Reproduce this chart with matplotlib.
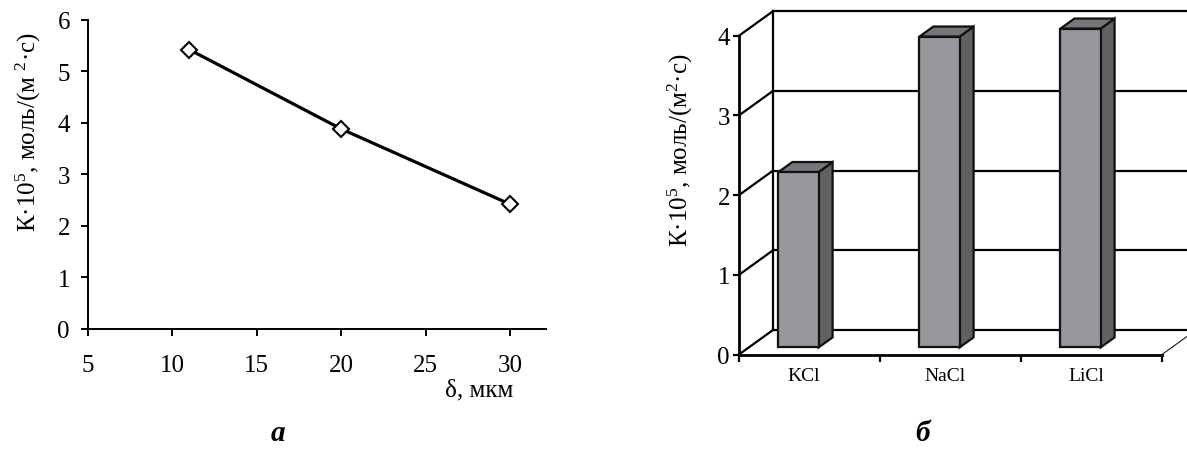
import matplotlib
matplotlib.use("Agg")
import matplotlib.pyplot as plt
from matplotlib.patches import Polygon
import numpy as np

plt.rcParams['font.family'] = ['Liberation Serif', 'DejaVu Serif']
plt.rcParams['mathtext.fontset'] = 'custom'
plt.rcParams['mathtext.rm'] = 'Liberation Serif'
plt.rcParams['mathtext.it'] = 'Liberation Serif:italic'

# ---- data ----
thickness = [11, 20, 30]               # δ, мкм
k_values = [5.42, 3.88, 2.42]          # K·10^5 (panel a)
x_ticks_a = [5, 10, 15, 20, 25, 30]
y_ticks_a = [0, 1, 2, 3, 4, 5, 6]

salts = ['KCl', 'NaCl', 'LiCl']
k_salts = [2.2, 3.9, 4.0]              # K·10^5 (panel б)
y_ticks_b = [0, 1, 2, 3, 4]

W, H = 1187, 452
fig = plt.figure(figsize=(W / 100, H / 100), dpi=100)
fig.patch.set_facecolor('white')

def fx(px):
    return px / W

def fy(py):
    return 1 - py / H

TICK_FS = 18
LABEL_FS = 18

# ================= panel a =================
ax = fig.add_axes([fx(88), fy(330), (545.6 - 88) / W, (330 - 20.7) / H])
ax.plot(thickness, k_values, color='black', lw=2.3, marker='D', ms=8.5,
        mfc='white', mec='black', mew=1.5, clip_on=False, zorder=3)
ax.set_xlim(5, 32.1)
ax.set_ylim(0, 6)
ax.set_xticks(x_ticks_a)
ax.set_yticks(y_ticks_a)
for s in ['top', 'right']:
    ax.spines[s].set_visible(False)
for s in ['left', 'bottom']:
    ax.spines[s].set_linewidth(1.4)
ax.tick_params(axis='both', direction='out', length=5, width=1.4,
               labelsize=TICK_FS, colors='black')
ax.tick_params(axis='x', pad=13)
ax.tick_params(axis='y', pad=8)
fig.text(fx(479), fy(390), 'δ, мкм', ha='center', va='center', fontsize=TICK_FS)
fig.text(fx(28), fy(132), 'К·10$^5$, моль/(м $^2$·с)', rotation=90,
         ha='center', va='center', fontsize=LABEL_FS)
fig.text(fx(278), fy(434), 'а', ha='center', va='center', fontsize=21,
         fontweight='bold', fontstyle='italic')

# ================= panel б (pseudo-3D columns) =================
DX = 34 / 141.0          # depth offset in category units
DY = 24.5 / 79.7         # depth offset in value units
n = len(salts)
bx = fig.add_axes([fx(739), fy(355.5), (3 + DX) * 141 / W, (4 + DY) * 79.7 / H])
bx.set_xlim(0, n + DX)
bx.set_ylim(0, 4 + DY)
bx.patch.set_visible(False)
for s in ['top', 'right']:
    bx.spines[s].set_visible(False)
bx.spines['left'].set_bounds(0, 4)
bx.spines['bottom'].set_bounds(0, n)
bx.spines['left'].set_linewidth(2.0)
bx.spines['bottom'].set_linewidth(2.0)
bx.set_yticks(y_ticks_b)
bx.set_xticks(np.arange(n + 1))
bx.set_xticklabels([''] * (n + 1))
bx.set_xticks(np.arange(n) + 0.46, minor=True)
bx.set_xticklabels(salts, minor=True)
bx.tick_params(axis='x', which='major', direction='out', length=5, width=1.6)
bx.tick_params(axis='x', which='minor', length=0, pad=9, labelsize=14)
bx.tick_params(axis='y', direction='out', length=4.5, width=1.6, pad=2,
               labelsize=TICK_FS)

def P(x, y, d):
    return (x + d * DX, y + d * DY)

glw = 1.6
# side wall diagonals + back wall horizontal lines
for v in y_ticks_b:
    bx.plot([0, DX], [v, v + DY], color='black', lw=glw, clip_on=False, zorder=1)
    bx.plot([DX, n + DX], [v + DY, v + DY], color='black', lw=glw,
            clip_on=False, zorder=1)
# back wall left edge
bx.plot([DX, DX], [DY, 4 + DY], color='black', lw=glw, clip_on=False, zorder=1)
# back wall right edge (mostly outside the figure)
bx.plot([n + DX, n + DX], [DY, 4 + DY], color='black', lw=glw, clip_on=False, zorder=1)
# floor right edge (thin)
bx.plot([n, n + DX], [0, DY], color='black', lw=0.7, clip_on=False, zorder=1)

a, b = 0.21, 0.495
d0, d1 = 0.29, 0.70
front_c = '#97989c'
side_c = '#606163'
top_c = '#75767a'
for i, v in enumerate(k_salts):
    x0, x1 = i + a, i + b
    front = [P(x0, 0, d0), P(x1, 0, d0), P(x1, v, d0), P(x0, v, d0)]
    side = [P(x1, 0, d0), P(x1, 0, d1), P(x1, v, d1), P(x1, v, d0)]
    top = [P(x0, v, d0), P(x1, v, d0), P(x1, v, d1), P(x0, v, d1)]
    for poly, c in [(side, side_c), (top, top_c), (front, front_c)]:
        bx.add_patch(Polygon(poly, closed=True, facecolor=c, edgecolor='#111111',
                             lw=1.6, joinstyle='miter', zorder=4, clip_on=False))

fig.text(fx(680), fy(150), 'К·10$^5$, моль/(м$^2$·с)', rotation=90,
         ha='center', va='center', fontsize=LABEL_FS)
fig.text(fx(923), fy(434), 'б', ha='center', va='center', fontsize=21,
         fontweight='bold', fontstyle='italic')

fig.savefig('out.png', dpi=100, facecolor='white')
